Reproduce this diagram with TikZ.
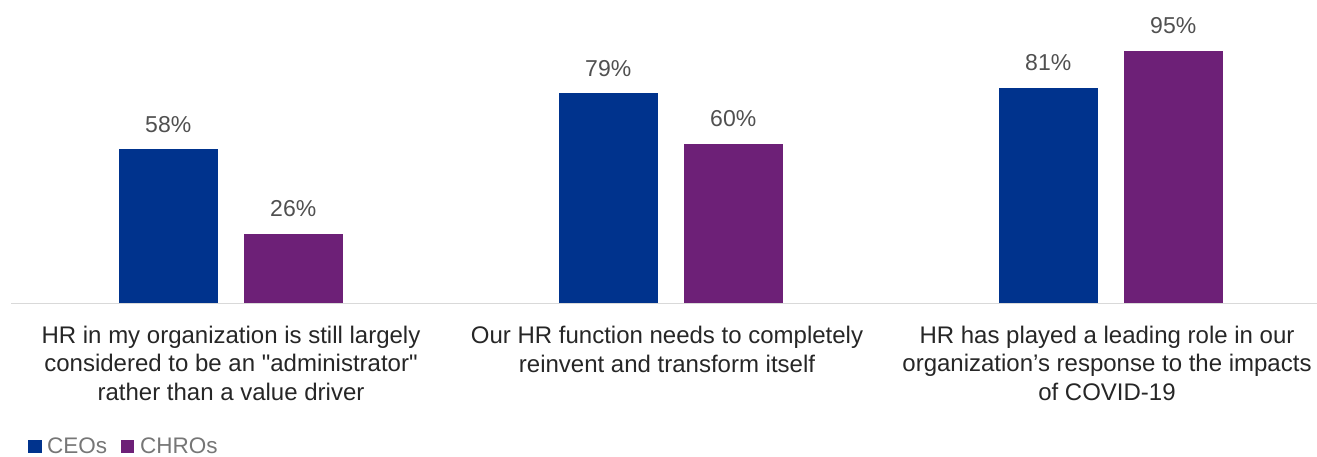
\documentclass[tikz,border=0pt]{standalone}
\usepackage{fontspec}
\setmainfont{Liberation Sans}
\definecolor{ceo}{HTML}{00338D}
\definecolor{chro}{HTML}{6D2077}
\definecolor{axisgray}{HTML}{D9D9D9}
\definecolor{valgray}{HTML}{505050}
\definecolor{cattext}{HTML}{262626}
\definecolor{leggray}{HTML}{767676}
\newcommand\sq{{\XeTeXglyph\XeTeXglyphindex "quotedbl"\relax}}
\begin{document}
\begin{tikzpicture}[x=1pt,y=-1pt,
  valfont/.style={font=\fontsize{23}{27}\selectfont, text=valgray, inner sep=0pt, anchor=base},
  catlabel/.style={font=\fontsize{24}{28.5}\selectfont, text=cattext, align=center, inner sep=0pt, anchor=base},
  legtext/.style={font=\fontsize{22.5}{26}\selectfont, text=leggray, inner sep=0pt, anchor=base west},
  legbox/.style={minimum width=13.5pt, minimum height=13.5pt, inner sep=0pt, anchor=north west}
]
\useasboundingbox (0,0) rectangle (1317,457);
% bars (height 2.655 px per percent, baseline y=303)
\def\base{303}
\def\sc{2.655}
\foreach \name/\xl/\v/\col in {a1/119/58/ceo, a2/244/26/chro, b1/559/79/ceo, b2/684/60/chro, c1/999/81/ceo, c2/1124/95/chro}{
  \pgfmathsetmacro{\top}{\base-\sc*\v}
  \fill[\col] (\xl,\base) rectangle ({\xl+98.5},\top) coordinate (\name top);
  \node[valfont] (\name val) at ({\xl+49.25},{\top-17}) {\v\%};
}
% axis
\draw[axisgray, line width=1.3pt] (11,303.5) -- (1317,303.5);
% category labels (anchor base = baseline of last line)
\node[catlabel] (cat1) at (231,400) {HR in my organization is still largely\\considered to be an \sq administrator\sq\\rather than a value driver};
\node[catlabel] (cat2) at (667,372.3) {Our HR function needs to completely\\reinvent and transform itself};
\node[catlabel] (cat3) at (1107,400) {HR has played a leading role in our\\organization’s response to the impacts\\of COVID-19};
% legend
\node[legbox, fill=ceo] (lceo) at (28,439.5) {};
\node[legtext] (tceo) at (47,453) {CEOs};
\node[legbox, fill=chro] (lchro) at (120.5,439.5) {};
\node[legtext] (tchro) at (140,453) {CHROs};
\end{tikzpicture}
\end{document}
